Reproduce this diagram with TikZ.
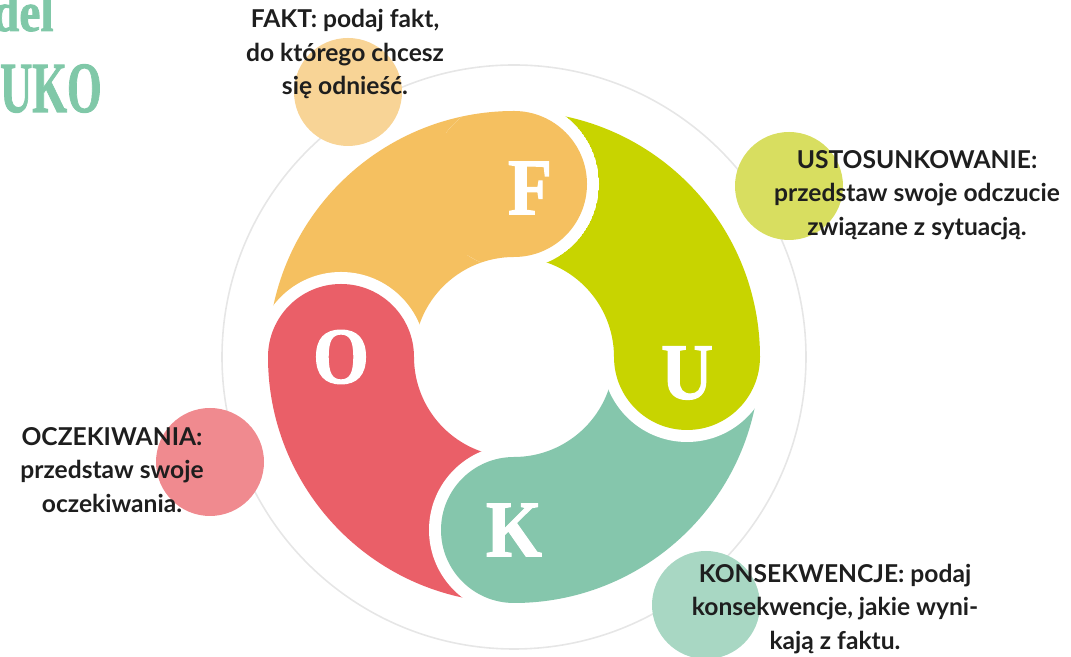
\documentclass[tikz,border=0pt]{standalone}
\usepackage{fontspec}
\usepackage{tikz}
\usetikzlibrary{positioning}

\newfontfamily\latofont{Lato}
\newfontfamily\serifbold{Liberation Serif Bold}[FakeBold=1.5]

\definecolor{fukoF}{HTML}{F5C060}
\definecolor{fukoU}{HTML}{C8D400}
\definecolor{fukoK}{HTML}{85C6AC}
\definecolor{fukoO}{HTML}{EA5F68}
\definecolor{fukoFl}{HTML}{F8D496}
\definecolor{fukoUl}{HTML}{D8DE60}
\definecolor{fukoKl}{HTML}{A8D7C3}
\definecolor{fukoOl}{HTML}{F08A8F}
\definecolor{titlegreen}{HTML}{80C8A8}
\definecolor{txt}{HTML}{1E1E1E}
\definecolor{ringgray}{HTML}{E6E6E6}

\begin{document}
\begin{tikzpicture}
	[x=0.5pt,y=0.5pt,
	blob/.style={preaction={draw=white,line width=12pt},fill=#1},
	dot/.style={circle,inner sep=0pt,minimum size=54pt,fill=#1},
	letter/.style={font=\serifbold\fontsize{40}{40}\selectfont,text=white,xscale=0.9,inner sep=0pt},
	lbl/.style={font=\latofont\bfseries\fontsize{12.3}{16.8}\selectfont,align=center,text=txt,inner sep=0pt}]

	\useasboundingbox (0,0) rectangle (1071,657);

	% centre of the wheel and the four heads
	\coordinate (c) at (514,300);
	\coordinate (hF) at (514,473);
	\coordinate (hU) at (687,300);
	\coordinate (hK) at (514,127);
	\coordinate (hO) at (341,300);

	% title, cut by the page edge
	\node[font=\serifbold\fontsize{28}{28}\selectfont,text=titlegreen,xscale=0.85,anchor=base east,inner sep=0pt] (model) at (54,626) {Model};
	\node[font=\serifbold\fontsize{36}{36}\selectfont,text=titlegreen,xscale=0.62,anchor=base east,inner sep=0pt] (fuko) at (102,545) {FUKO};

	\draw[ringgray, line width=0.8pt] (c) circle[radius=292];

	% small circles behind the texts
	\node[dot=fukoFl] (dF) at (348,565) {};
	\node[dot=fukoUl] (dU) at (789,471) {};
	\node[dot=fukoOl] (dO) at (210,195) {};
	\node[dot=fukoKl] (dK) at (706,52) {};

	% the four drops of the wheel
	\foreach \ang/\col in {0/fukoF, 90/fukoO, 180/fukoK, 270/fukoU}
	\path[blob=\col, shift={(c)}, rotate=\ang] (90:246) arc[start angle=90, end angle=175, radius=246] -- (175:100) arc[start angle=175, end angle=90, radius=100] arc[start angle=-90, end angle=90, radius=73] -- cycle;

	% head of F again, over the tail of U
	\begin{scope}
	\clip (hF) circle[radius=85];
	\path[blob=fukoF, shift={(c)}] (90:246) arc[start angle=90, end angle=175, radius=246] -- (175:100) arc[start angle=175, end angle=90, radius=100] arc[start angle=-90, end angle=90, radius=73] -- cycle;
	\end{scope}

	\node[letter] (lF) at ([xshift=8,yshift=-2]hF) {F};
	\node[letter] (lU) at ([yshift=-8]hU) {U};
	\node[letter] (lK) at (hK) {K};
	\node[letter] (lO) at (hO) {O};

	\node[lbl] (tF) at (345,603) {FAKT: podaj fakt,\\do którego chcesz\\się odnieść.};
	\node[lbl] (tU) at (917,462) {USTOSUNKOWANIE:\\przedstaw swoje odczucie\\związane z sytuacją.};
	\node[lbl] (tO) at (112,187) {OCZEKIWANIA:\\przedstaw swoje\\oczekiwania.};
	\node[lbl] (tK) at (835,48) {KONSEKWENCJE: podaj\\konsekwencje, jakie wyni-\\kają z faktu.};
\end{tikzpicture}
\end{document}
